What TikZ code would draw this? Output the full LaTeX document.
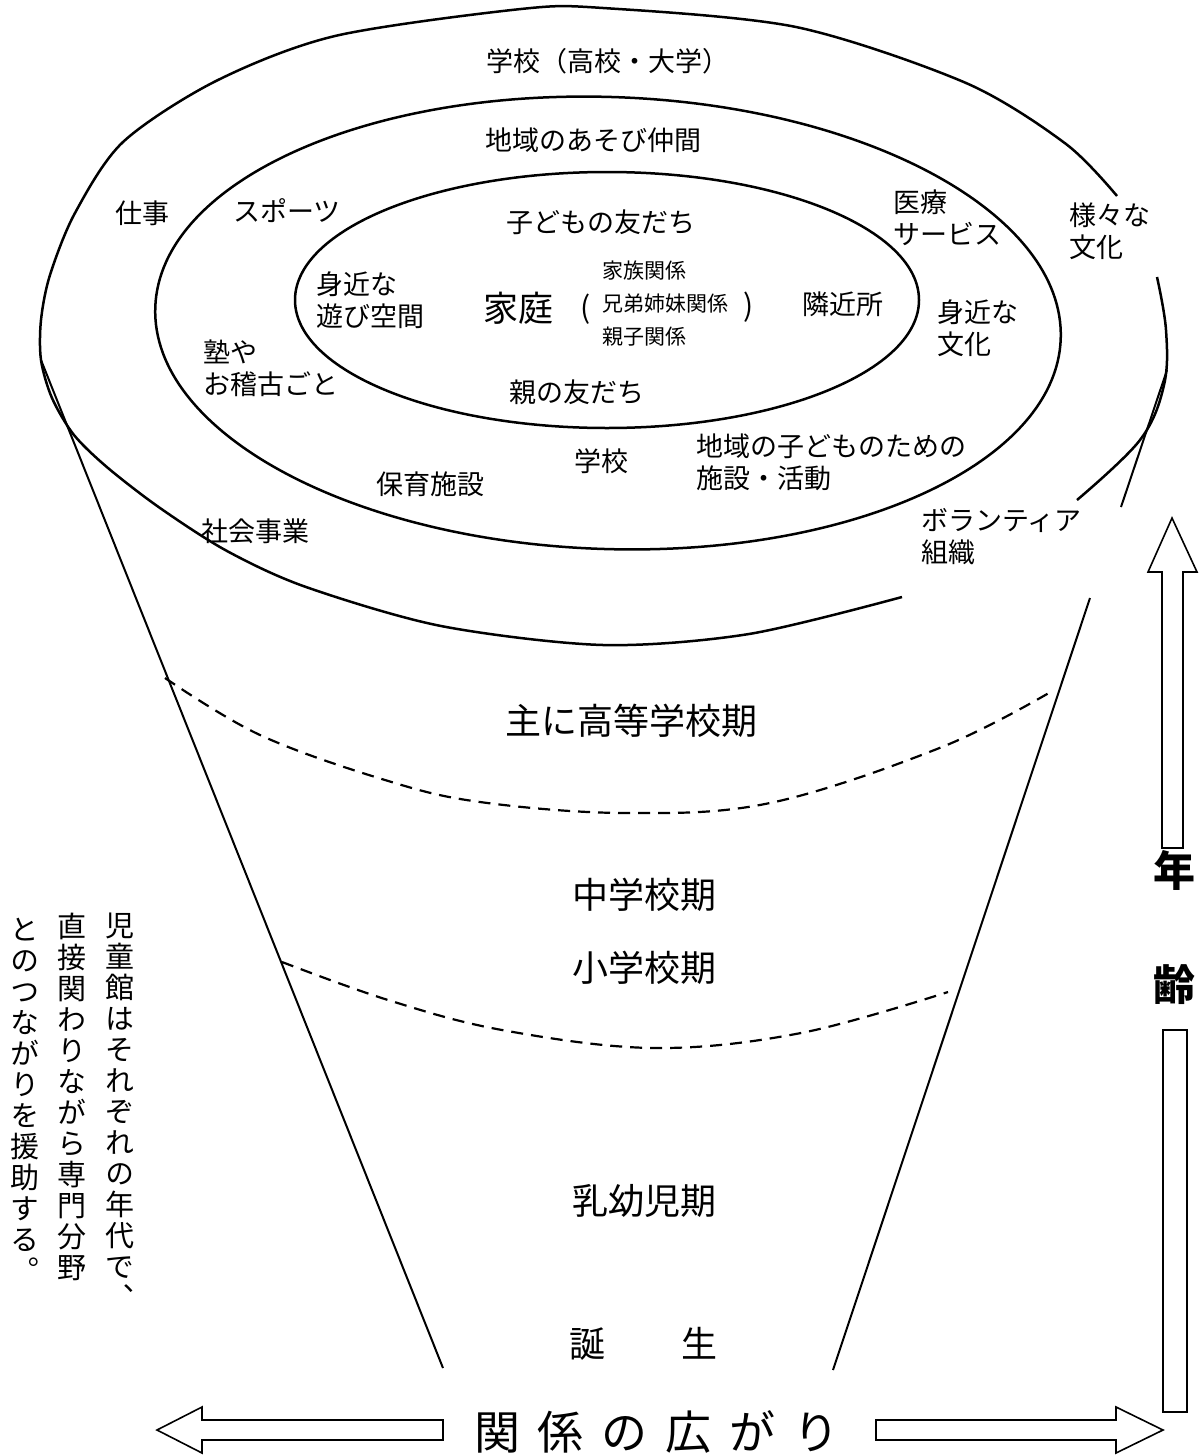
\documentclass[tikz,border=0pt]{standalone}
\usepackage{fontspec}
\setmainfont{Noto Sans CJK JP}
\newfontfamily\tatefont[RawFeature=+vert]{Noto Sans CJK JP}

\begin{document}
\begin{tikzpicture}[x=0.5pt,y=-0.5pt,
  lbl/.style={font=\fontsize{13.5}{16}\selectfont, inner sep=0pt},
  lbltwo/.style={lbl, align=left, anchor=west},
  period/.style={font=\fontsize{18}{20}\selectfont, inner sep=0pt},
  tate/.style={font=\tatefont\fontsize{14.5}{15.5}\selectfont, align=center, inner sep=0pt, anchor=north},
  ring/.style={line width=1.25pt},
  cone/.style={line width=1pt},
  border/.style={line width=1.1pt, dash pattern=on 6pt off 4pt},
  blockarrow/.style={line width=0.8pt}]
\useasboundingbox (0,0) rectangle (1203,1456) ;

% rings
\draw[ring] plot[smooth, tension=0.5] coordinates {(1117,196) (1066,144) (966,83) (796,27) (603,8) (521,9) (335,36) (216,81) (123,142) (75,213) (50,275) (41,320) (41,360) (52,398) (74,435) (108,468) (160,508) (227,551) (306,587) (441,626) (603,645) (749,634) (902,597)} ;
\draw[ring] plot[smooth, tension=0.6] coordinates {(1157,277) (1166,330) (1164,385) (1140,440) (1077,500)} ;
\draw[ring, rotate around={-2:(608,323)}] (608,323) ellipse [x radius=453, y radius=226] ;
\draw[ring] (607,300) ellipse [x radius=312, y radius=128] ;

% funnel
\coordinate (lt) at (41,360) ;
\coordinate (lb) at (443,1368) ;
\coordinate (rt) at (1167,370) ;
\coordinate (rm1) at (1121,507) ;
\coordinate (rm2) at (1090,598) ;
\coordinate (rb) at (833,1370) ;
\draw[cone] (lt) -- (lb) ;
\draw[cone] (rt) -- (rm1) ;
\draw[cone] (rm2) -- (rb) ;
\draw[border] plot[smooth, tension=0.6] coordinates {(165,678) (260,735) (385,780) (480,802) (625,813) (770,803) (942,747) (1054,690)} ;
\draw[border] plot[smooth, tension=0.6] coordinates {(282,962) (388,1000) (502,1030) (654,1048) (801,1033) (948,992)} ;

% labels in the rings
\node[lbl] (school) at (608,61) {学校（高校・大学）} ;
\node[lbl] (playmates) at (593,140) {地域のあそび仲間} ;
\node[lbl] (kidfriends) at (601,222) {子どもの友だち} ;
\node[lbl] (work) at (142,213) {仕事} ;
\node[lbl] (sports) at (287,211) {スポーツ} ;
\node[lbltwo] (medical) at (893,218) {医療\\サービス} ;
\node[lbltwo] (culture) at (1069,231) {様々な\\文化} ;
\node[lbltwo] (playspace) at (316,300) {身近な\\遊び空間} ;
\node[inner sep=0pt, font=\fontsize{17.5}{20}\selectfont] (home) at (518,308) {家庭} ;
\node[inner sep=0pt, font=\fontsize{15}{18}\selectfont] (lparen) at (586,309) {(} ;
\node[inner sep=0pt, align=left, anchor=west, font=\fontsize{10.5}{16.5}\selectfont] (relations) at (602,304) {家族関係\\兄弟姉妹関係\\親子関係} ;
\node[inner sep=0pt, font=\fontsize{15}{18}\selectfont] (rparen) at (749,307) {)} ;
\node[lbl] (neighbors) at (843,304) {隣近所} ;
\node[lbltwo] (localculture) at (937,328) {身近な\\文化} ;
\node[lbltwo] (cram) at (203,368) {塾や\\お稽古ごと} ;
\node[lbl] (parentfriends) at (577,392) {親の友だち} ;
\node[lbl] (localschool) at (601,461) {学校} ;
\node[lbltwo] (facilities) at (696,462) {地域の子どものための\\施設・活動} ;
\node[lbl] (nursery) at (430,484) {保育施設} ;
\node[lbl] (welfare) at (255,531) {社会事業} ;
\node[lbltwo] (volunteer) at (921,537) {ボランティア\\組織} ;

% periods
\node[period] (highschool) at (631,721) {主に高等学校期} ;
\node[period] (juniorhigh) at (644,895) {中学校期} ;
\node[period] (elementary) at (644,968) {小学校期} ;
\node[period] (infancy) at (644,1201) {乳幼児期} ;
\node[period] (birth) at (643,1344) {誕\hspace{38pt}生} ;

% vertical note
\node[tate] (note1) at (120,913) {児\\童\\館\\は\\そ\\れ\\ぞ\\れ\\の\\年\\代\\で\\、} ;
\node[tate] (note2) at (72,913) {直\\接\\関\\わ\\り\\な\\が\\ら\\専\\門\\分\\野} ;
\node[tate] (note3) at (25,918) {と\\の\\つ\\な\\が\\り\\を\\援\\助\\す\\る\\。} ;

% axes
\draw[blockarrow] (1162,848) -- (1162,572) -- (1148,572) -- (1172,518) -- (1197,572) -- (1183,572) -- (1183,848) -- cycle ;
\draw[blockarrow] (1163,1030) rectangle (1187,1412) ;
\node[inner sep=0pt, font=\fontsize{21}{24}\selectfont\bfseries] (agetop) at (1174,870) {年} ;
\node[inner sep=0pt, font=\fontsize{21}{24}\selectfont\bfseries] (agebot) at (1174,985) {齢} ;
\draw[blockarrow] (443,1420) -- (202,1420) -- (202,1407) -- (157,1430) -- (202,1453) -- (202,1440) -- (443,1440) -- cycle ;
\draw[blockarrow] (876,1420) -- (1116,1420) -- (1116,1407) -- (1163,1430) -- (1116,1453) -- (1116,1440) -- (876,1440) -- cycle ;
\node[inner sep=0pt, font=\fontsize{23}{26}\selectfont] (spread) at (657,1432) {関\hspace{9pt}係\hspace{9pt}の\hspace{9pt}広\hspace{9pt}が\hspace{9pt}り} ;
\end{tikzpicture}
\end{document}
